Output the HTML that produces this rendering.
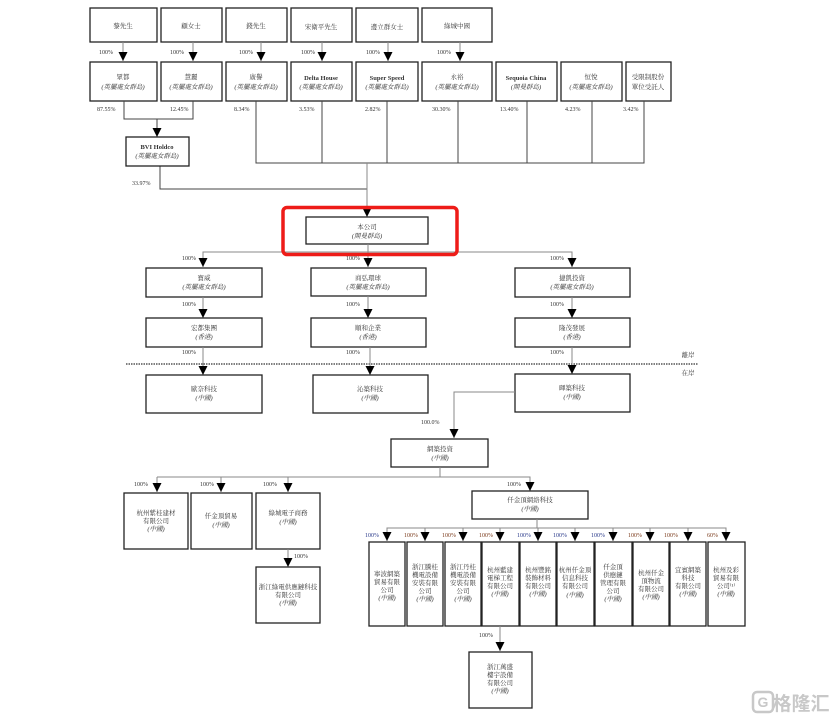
<!DOCTYPE html>
<html><head><meta charset="utf-8"><style>
html,body{margin:0;padding:0;background:#fff;}
svg{display:block;}
text{font-family:"Liberation Serif","Noto Serif CJK SC","Noto Sans CJK TC",serif;font-size:6.5px;fill:#333;text-anchor:middle;}
.p{text-anchor:start;font-size:6px;fill:#333;}
.b{fill:#2a3a8a;}
.r{fill:#7a3a1a;}
.i{font-style:italic;}
rect.bx{fill:#fff;stroke:#222;stroke-width:1.3;}
.ln{stroke:#888;stroke-width:1;fill:none;}
</style></head><body>
<svg width="831" height="722" viewBox="0 0 831 722" xmlns="http://www.w3.org/2000/svg">
<defs><marker id="a" markerWidth="9" markerHeight="9" refX="9" refY="4.5" orient="auto" markerUnits="userSpaceOnUse"><path d="M0,0L9,4.5L0,9z" fill="#000"/></marker></defs>

<!-- top shareholders -->
<rect class="bx" x="90" y="8" width="67" height="34"/><text x="123" y="28">黎先生</text>
<rect class="bx" x="161" y="8" width="61" height="34"/><text x="191" y="28">顧女士</text>
<rect class="bx" x="226" y="8" width="61" height="34"/><text x="256" y="28">錢先生</text>
<rect class="bx" x="291" y="8" width="61" height="34"/><text x="321" y="29">宋衛平先生</text>
<rect class="bx" x="356" y="8" width="62" height="34"/><text x="387" y="29">邊立群女士</text>
<rect class="bx" x="422" y="8" width="70" height="34"/><text x="457" y="28">綠城中國</text>

<g class="ln"><path d="M123,42V61" marker-end="url(#a)"/><path d="M193,42V61" marker-end="url(#a)"/><path d="M261,42V61" marker-end="url(#a)"/><path d="M322,42V61" marker-end="url(#a)"/><path d="M388,42V61" marker-end="url(#a)"/><path d="M460,42V61" marker-end="url(#a)"/></g>
<text class="p" x="99" y="54">100%</text><text class="p" x="170" y="54">100%</text><text class="p" x="239" y="54">100%</text><text class="p" x="301" y="54">100%</text><text class="p" x="366" y="54">100%</text><text class="p" x="437" y="54">100%</text>

<!-- row 2 -->
<rect class="bx" x="90" y="62" width="67" height="39"/><text x="123" y="79">眾都</text><text class="i" x="123" y="89">(英屬處女群島)</text>
<rect class="bx" x="161" y="62" width="61" height="39"/><text x="191" y="79">慧麗</text><text class="i" x="191" y="89">(英屬處女群島)</text>
<rect class="bx" x="226" y="62" width="61" height="39"/><text x="256" y="79">廣譽</text><text class="i" x="256" y="89">(英屬處女群島)</text>
<rect class="bx" x="291" y="62" width="61" height="39"/><text x="321" y="80" style="font-weight:bold">Delta House</text><text class="i" x="321" y="89">(英屬處女群島)</text>
<rect class="bx" x="356" y="62" width="62" height="39"/><text x="387" y="80" style="font-weight:bold">Super Speed</text><text class="i" x="387" y="89">(英屬處女群島)</text>
<rect class="bx" x="422" y="62" width="70" height="39"/><text x="457" y="79">永裕</text><text class="i" x="457" y="89">(英屬處女群島)</text>
<rect class="bx" x="496" y="62" width="61" height="39"/><text x="526" y="80" style="font-weight:bold">Sequoia China</text><text class="i" x="526" y="89">(開曼群島)</text>
<rect class="bx" x="561" y="62" width="61" height="39"/><text x="591" y="79">恒悅</text><text class="i" x="591" y="89">(英屬處女群島)</text>
<rect class="bx" x="626" y="62" width="45" height="39"/><text x="648" y="79">受限制股份</text><text x="648" y="89">單位受託人</text>

<text class="p" x="97" y="111">87.55%</text><text class="p" x="170" y="111">12.45%</text><text class="p" x="234" y="111">8.34%</text><text class="p" x="299" y="111">3.53%</text><text class="p" x="365" y="111">2.82%</text><text class="p" x="432" y="111">30.30%</text><text class="p" x="500" y="111">13.40%</text><text class="p" x="565" y="111">4.23%</text><text class="p" x="623" y="111">3.42%</text>

<g class="ln" style="stroke:#444">
<path d="M124,101V119H193V101"/><path d="M157,119V137" marker-end="url(#a)"/>
<path d="M160,166V189H367"/>
<path d="M256,101V163H644V101"/><path d="M322,101V163M387,101V163M458,101V163M527,101V163M592,101V163"/>
</g>
<path class="ln" d="M367,163V217" marker-end="url(#a)"/>
<rect class="bx" x="126" y="137" width="63" height="29"/><text x="157" y="149" style="font-weight:bold">BVI Holdco</text><text class="i" x="157" y="158">(英屬處女群島)</text>
<text class="p" x="132" y="185">33.97%</text>

<!-- company -->
<rect class="bx" x="306" y="217" width="122" height="27"/><text x="367" y="229">本公司</text><text class="i" x="367" y="238">(開曼群島)</text>
<path class="ln" d="M203,267V252H572V267" marker-end="url(#a)"/>
<path class="ln" d="M203,252V267" marker-end="url(#a)"/>
<path class="ln" d="M368,244V267" marker-end="url(#a)"/>
<rect x="283" y="207.5" width="174" height="47" rx="4" fill="none" stroke="#ee1c18" stroke-width="3.5"/>
<text class="p" x="182" y="260">100%</text><text class="p" x="346" y="260">100%</text><text class="p" x="550" y="260">100%</text>

<rect class="bx" x="146" y="268" width="116" height="29"/><text x="204" y="280">寶威</text><text class="i" x="204" y="289">(英屬處女群島)</text>
<rect class="bx" x="311" y="268" width="115" height="28"/><text x="368" y="280">商弘環球</text><text class="i" x="368" y="289">(英屬處女群島)</text>
<rect class="bx" x="515" y="268" width="115" height="29"/><text x="572" y="280">捷凱投資</text><text class="i" x="572" y="289">(英屬處女群島)</text>

<g class="ln"><path d="M203,297V318" marker-end="url(#a)"/><path d="M368,296V318" marker-end="url(#a)"/><path d="M572,297V318" marker-end="url(#a)"/></g>
<text class="p" x="182" y="306">100%</text><text class="p" x="346" y="306">100%</text><text class="p" x="550" y="306">100%</text>
<rect class="bx" x="146" y="318" width="116" height="29"/><text x="204" y="330">宏都集團</text><text class="i" x="204" y="339">(香港)</text>
<rect class="bx" x="311" y="318" width="115" height="29"/><text x="368" y="330">順和企業</text><text class="i" x="368" y="339">(香港)</text>
<rect class="bx" x="515" y="318" width="115" height="29"/><text x="572" y="330">隆茂發展</text><text class="i" x="572" y="339">(香港)</text>

<line x1="126" y1="364" x2="698" y2="364" stroke="#333" stroke-width="1.3" stroke-dasharray="1.5,1"/>
<text x="688" y="357">離岸</text><text x="688" y="375">在岸</text>
<g class="ln"><path d="M203,347V375" marker-end="url(#a)"/><path d="M370,347V375" marker-end="url(#a)"/><path d="M572,347V374" marker-end="url(#a)"/></g>
<text class="p" x="182" y="354">100%</text><text class="p" x="346" y="354">100%</text><text class="p" x="550" y="354">100%</text>
<rect class="bx" x="146" y="375" width="116" height="38"/><text x="204" y="391">歐奈科技</text><text class="i" x="204" y="400">(中國)</text>
<rect class="bx" x="313" y="375" width="115" height="38"/><text x="370" y="391">沁築科技</text><text class="i" x="370" y="400">(中國)</text>
<rect class="bx" x="515" y="374" width="115" height="38"/><text x="572" y="390">暉築科技</text><text class="i" x="572" y="399">(中國)</text>

<path class="ln" d="M515,392H454V438" marker-end="url(#a)"/>
<text class="p" x="421" y="424">100.0%</text>
<rect class="bx" x="391" y="439" width="97" height="28"/><text x="440" y="451">網築投資</text><text class="i" x="440" y="460">(中國)</text>

<path class="ln" d="M440,467V477"/>
<path class="ln" d="M157,477H530V491" marker-end="url(#a)"/>
<g class="ln"><path d="M157,477V492" marker-end="url(#a)"/><path d="M221,477V492" marker-end="url(#a)"/><path d="M288,477V492" marker-end="url(#a)"/></g>
<text class="p" x="134" y="486">100%</text><text class="p" x="200" y="486">100%</text><text class="p" x="263" y="486">100%</text><text class="p" x="507" y="486">100%</text>

<rect class="bx" x="124" y="493" width="64" height="56"/><text x="156" y="515">杭州紫桂建材</text><text x="156" y="523">有限公司</text><text class="i" x="156" y="531">(中國)</text>
<rect class="bx" x="191" y="493" width="61" height="56"/><text x="221" y="518">仟金頂貿易</text><text class="i" x="221" y="527">(中國)</text>
<rect class="bx" x="256" y="493" width="64" height="56"/><text x="288" y="515">綠城電子商務</text><text class="i" x="288" y="524">(中國)</text>
<path class="ln" d="M288,549V567" marker-end="url(#a)"/><text class="p" x="294" y="558">100%</text>
<rect class="bx" x="256" y="567" width="64" height="56"/><text x="288" y="589">浙江綠電供應鏈科技</text><text x="288" y="597">有限公司</text><text class="i" x="288" y="605">(中國)</text>

<rect class="bx" x="472" y="491" width="116" height="28"/><text x="530" y="502">仟金頂網絡科技</text><text class="i" x="530" y="511">(中國)</text>
<path class="ln" d="M537,519V528"/>
<path class="ln" d="M387,541V528H726V541" marker-end="url(#a)"/>
<path class="ln" d="M387,528V541" marker-end="url(#a)"/>
<g class="ln">
<path d="M425,528V541" marker-end="url(#a)"/><path d="M463,528V541" marker-end="url(#a)"/><path d="M500,528V541" marker-end="url(#a)"/><path d="M538,528V541" marker-end="url(#a)"/><path d="M575,528V541" marker-end="url(#a)"/><path d="M613,528V541" marker-end="url(#a)"/><path d="M650,528V541" marker-end="url(#a)"/><path d="M688,528V541" marker-end="url(#a)"/>
</g>
<text class="p b" x="365" y="537">100%</text><text class="p r" x="404" y="537">100%</text><text class="p r" x="442" y="537">100%</text><text class="p r" x="479" y="537">100%</text><text class="p b" x="517" y="537">100%</text><text class="p b" x="553" y="537">100%</text><text class="p b" x="591" y="537">100%</text><text class="p r" x="628" y="537">100%</text><text class="p r" x="664" y="537">100%</text><text class="p r" x="707" y="537">60%</text>

<rect class="bx" x="369" y="542" width="36" height="84"/><text x="387" y="576">寧波網築</text><text x="387" y="584">貿易有限</text><text x="387" y="592">公司</text><text class="i" x="387" y="600">(中國)</text>
<rect class="bx" x="407" y="542" width="36" height="84"/><text x="425" y="569">浙江騰桂</text><text x="425" y="577">機電設備</text><text x="425" y="585">安裝有限</text><text x="425" y="593">公司</text><text class="i" x="425" y="601">(中國)</text>
<rect class="bx" x="445" y="542" width="36" height="84"/><text x="463" y="569">浙江丹桂</text><text x="463" y="577">機電設備</text><text x="463" y="585">安裝有限</text><text x="463" y="593">公司</text><text class="i" x="463" y="601">(中國)</text>
<rect class="bx" x="482" y="542" width="37" height="84"/><text x="500" y="572">杭州藍建</text><text x="500" y="580">電梯工程</text><text x="500" y="588">有限公司</text><text class="i" x="500" y="596">(中國)</text>
<rect class="bx" x="520" y="542" width="36" height="84"/><text x="538" y="572">杭州豐銘</text><text x="538" y="580">裝飾材料</text><text x="538" y="588">有限公司</text><text class="i" x="538" y="596">(中國)</text>
<rect class="bx" x="557" y="542" width="37" height="84"/><text x="575" y="572">杭州仟金頂</text><text x="575" y="580">信息科技</text><text x="575" y="588">有限公司</text><text class="i" x="575" y="597">(中國)</text>
<rect class="bx" x="595" y="542" width="37" height="84"/><text x="613" y="569">仟金頂</text><text x="613" y="577">供應鏈</text><text x="613" y="585">管理有限</text><text x="613" y="593">公司</text><text class="i" x="613" y="601">(中國)</text>
<rect class="bx" x="633" y="542" width="36" height="84"/><text x="651" y="575">杭州仟金</text><text x="651" y="583">頂物流</text><text x="651" y="591">有限公司</text><text class="i" x="651" y="599">(中國)</text>
<rect class="bx" x="670" y="542" width="36" height="84"/><text x="688" y="572">宜賓網築</text><text x="688" y="580">科技</text><text x="688" y="588">有限公司</text><text class="i" x="688" y="596">(中國)</text>
<rect class="bx" x="708" y="542" width="37" height="84"/><text x="726" y="572">杭州及彩</text><text x="726" y="580">貿易有限</text><text x="726" y="588">公司⁽¹⁾</text><text class="i" x="726" y="596">(中國)</text>

<path class="ln" d="M500,626V651" marker-end="url(#a)"/><text class="p" x="479" y="637">100%</text>
<rect class="bx" x="469" y="652" width="63" height="56"/><text x="500" y="669">浙江萬盛</text><text x="500" y="677">樓宇設備</text><text x="500" y="685">有限公司</text><text class="i" x="500" y="693">(中國)</text>

<!-- watermark -->
<rect x="753" y="692" width="20" height="20" rx="4" fill="none" stroke="#c8c8c8" stroke-width="2.5"/>
<text x="763" y="707" style="font-family:'Liberation Sans',sans-serif;font-size:14px;fill:#c8c8c8;font-weight:bold">G</text>
<text x="801" y="710" style="font-family:'Liberation Sans','Noto Sans CJK SC',sans-serif;font-size:19px;fill:#c8c8c8;font-weight:bold">格隆汇</text>
</svg>
</body></html>
